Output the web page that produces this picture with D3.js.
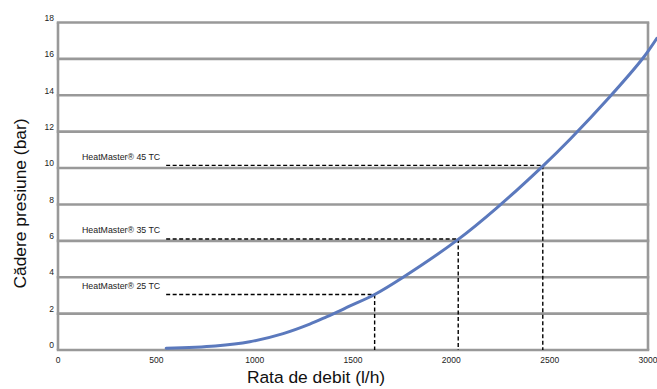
<!DOCTYPE html>
<html>
<head>
<meta charset="utf-8">
<script src="https://cdn.jsdelivr.net/npm/d3@7"></script>
<style>
  html, body { margin: 0; padding: 0; background: #fff; }
  svg { display: block; }
  text { font-family: "Liberation Sans", Arial, sans-serif; }
</style>
</head>
<body>
<div id="chart"></div>
<script>
// ---- data ----
const flowValues = [550, 800, 975, 1145, 1280, 1365, 1485, 1610, 1755, 2035, 2230, 2465, 2605, 2800, 2975, 3045];
const dropValues = [0.1, 0.22, 0.45, 0.9, 1.42, 1.82, 2.42, 3.05, 4.0, 6.08, 7.8, 10.11, 11.6, 13.85, 16.05, 17.13];

const modelNames = ["HeatMaster® 25 TC", "HeatMaster® 35 TC", "HeatMaster® 45 TC"];
const modelFlow = [1610, 2035, 2465];
const modelDrop = [3.05, 6.1, 10.15];
const guideStartFlow = 550;

const xTicks = [0, 500, 1000, 1500, 2000, 2500, 3000];
const yTicks = [0, 2, 4, 6, 8, 10, 12, 14, 16, 18];

const xTitle = "Rata de debit (l/h)";
const yTitle = "Cădere presiune (bar)";

// ---- layout ----
const W = 657, H = 389;
const mLeft = 58, mRight = 648, mTop = 22.5, mBottom = 350;

const svg = d3.select("#chart").append("svg")
  .attr("width", W).attr("height", H);

const x = d3.scaleLinear().domain([0, 3000]).range([mLeft, mRight]);
const y = d3.scaleLinear().domain([0, 18]).range([mBottom, mTop]);

const gridColor = "#999999";

// horizontal gridlines
svg.append("g").selectAll("line").data(yTicks).join("line")
  .attr("x1", x(0) - 1.25).attr("x2", x(3000) + 1.25)
  .attr("y1", d => y(d)).attr("y2", d => y(d))
  .attr("stroke", gridColor).attr("stroke-width", 2.6);

// left and right frame
svg.append("g").selectAll("line").data([0, 3000]).join("line")
  .attr("x1", d => x(d)).attr("x2", d => x(d))
  .attr("y1", y(18)).attr("y2", y(0))
  .attr("stroke", gridColor).attr("stroke-width", 2.6);

// y tick labels
svg.append("g").selectAll("text").data(yTicks).join("text")
  .attr("x", mLeft - 4).attr("y", d => y(d) - 4)
  .attr("text-anchor", "end").attr("dominant-baseline", "middle")
  .attr("font-size", 8.5).attr("fill", "#222")
  .text(d => d);

// x tick labels
svg.append("g").selectAll("text").data(xTicks).join("text")
  .attr("x", d => x(d)).attr("y", 361)
  .attr("text-anchor", "middle").attr("dominant-baseline", "middle")
  .attr("font-size", 8.5).attr("fill", "#222")
  .text(d => d);

// guide dashed lines
const models = modelNames.map((n, i) => ({ name: n, f: modelFlow[i], p: modelDrop[i] }));
const guides = svg.append("g");
guides.selectAll("line.h").data(models).join("line")
  .attr("class", "h")
  .attr("x1", x(guideStartFlow)).attr("x2", d => x(d.f))
  .attr("y1", d => y(d.p)).attr("y2", d => y(d.p))
  .attr("stroke", "#000").attr("stroke-width", 1.4).attr("stroke-dasharray", "4,2.5");
guides.selectAll("line.v").data(models).join("line")
  .attr("class", "v")
  .attr("x1", d => x(d.f)).attr("x2", d => x(d.f))
  .attr("y1", d => y(d.p)).attr("y2", y(0))
  .attr("stroke", "#000").attr("stroke-width", 1.4).attr("stroke-dasharray", "4,2.5");
guides.selectAll("text").data(models).join("text")
  .attr("x", 82).attr("y", d => y(d.p) - 8)
  .attr("dominant-baseline", "middle")
  .attr("font-size", 8.8).attr("fill", "#222")
  .text(d => d.name);

// curve
const pts = flowValues.map((f, i) => [f, dropValues[i]]);
svg.append("path")
  .datum(pts)
  .attr("fill", "none")
  .attr("stroke", "#5b79bd")
  .attr("stroke-width", 3)
  .attr("stroke-linecap", "round")
  .attr("d", d3.line().x(d => x(d[0])).y(d => y(d[1])).curve(d3.curveCatmullRom.alpha(0.5)));

// axis titles
svg.append("text")
  .attr("x", 316).attr("y", 383)
  .attr("text-anchor", "middle")
  .attr("font-size", 17.4).attr("fill", "#111")
  .text(xTitle);

svg.append("text")
  .attr("transform", "translate(26,203.5) rotate(-90)")
  .attr("text-anchor", "middle")
  .attr("font-size", 17.4).attr("fill", "#111")
  .text(yTitle);
</script>
</body>
</html>
